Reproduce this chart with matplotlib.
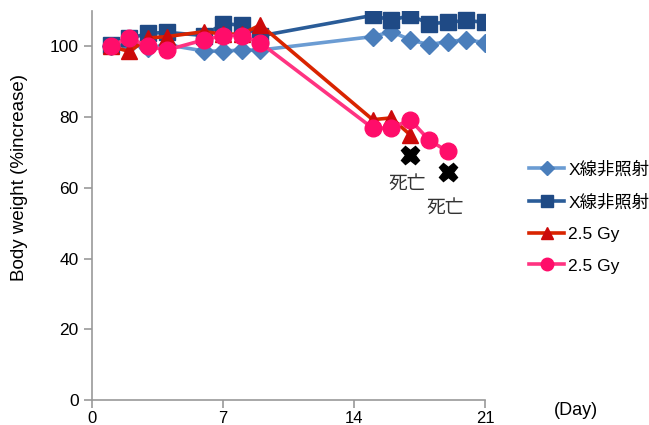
import matplotlib
matplotlib.use("Agg")
import matplotlib.pyplot as plt

plt.rcParams['font.family'] = ['Liberation Sans', 'Noto Sans CJK JP', 'DejaVu Sans']

days_ctrl = [1, 2, 3, 4, 6, 7, 8, 9, 15, 16, 17, 18, 19, 20, 21]
ctrl1 = [100, 100.5, 99.5, 100.5, 98.7, 98.7, 99, 99, 102.8, 104.2, 101.9, 100.5, 101.4, 101.9, 101.1]
ctrl2 = [100.5, 102.3, 103.7, 104, 103.1, 106.5, 106, 103, 108.8, 107.4, 108.8, 106.5, 106.8, 107.4, 106.8]
days_gy1 = [1, 2, 3, 4, 6, 7, 8, 9, 15, 16, 17]
gy1 = [100, 98.6, 102.4, 102.8, 104.2, 103.5, 103.5, 106.1, 79.3, 79.8, 75]
days_gy2 = [1, 2, 3, 4, 6, 7, 8, 9, 15, 16, 17, 18, 19]
gy2 = [100.2, 102.4, 100, 99, 101.9, 103.1, 103.1, 101, 76.9, 76.9, 79.3, 73.6, 70.3]
death_days = [17, 19]
death_vals = [69.3, 64.6]
labels = ['X線非照射', 'X線非照射', '2.5 Gy', '2.5 Gy']

fig = plt.figure(figsize=(6.49, 4.25), dpi=100)
ax = fig.add_axes([0.1418, 0.0588, 0.6055, 0.915])

ax.plot(days_ctrl, ctrl1, color='#6B9CD3', lw=2.6, marker='D', ms=9,
        mfc='#4A7EBB', mec='#4A7EBB', label=labels[0], zorder=3)
ax.plot(days_ctrl, ctrl2, color='#2A5C98', lw=2.6, marker='s', ms=12,
        mfc='#1F4A85', mec='#1F4A85', label=labels[1], zorder=3)
ax.plot(days_gy1, gy1, color='#D92400', lw=2.6, marker='^', ms=12,
        mfc='#CC0A0A', mec='#CC0A0A', label=labels[2], zorder=4)
ax.plot(days_gy2, gy2, color='#FF3381', lw=2.6, marker='o', ms=12,
        mfc='#FF0D6A', mec='#FF0D6A', label=labels[3], zorder=5)

ax.plot(death_days, death_vals, linestyle='none', marker='X', ms=13,
        color='black', zorder=6)
text_offsets = [(-0.15, -7.9), (-0.15, -10.0)]
for (d, v), (dx, dy) in zip(zip(death_days, death_vals), text_offsets):
    ax.text(d + dx, v + dy, '死亡', ha='center', va='center', fontsize=13.5,
            color='#333333', family=['Noto Sans CJK JP'])

ax.set_xlim(0, 21)
ax.set_ylim(0, 110)
ax.set_xticks([0, 7, 14, 21])
ax.set_yticks([0, 20, 40, 60, 80, 100])
for s in ['top', 'right']:
    ax.spines[s].set_visible(False)
for s in ['left', 'bottom']:
    ax.spines[s].set_color('#999999')
    ax.spines[s].set_linewidth(1.2)
ax.tick_params(axis='both', colors='#999999', labelcolor='black',
               labelsize=12.5, length=6, width=1.2)
ax.tick_params(axis='x', pad=2, labelsize=12)
ax.set_ylabel('Body weight (%increase)', fontsize=13.5)
ax.yaxis.set_label_coords(-0.163, 0.571)
fig.text(0.888, 0.035, '(Day)', fontsize=13, ha='center', va='center')

leg = ax.legend(loc='center left', bbox_to_anchor=(1.073, 0.47), frameon=False,
                fontsize=12.5, handlelength=2.0, handletextpad=0.25,
                labelspacing=0.95, markerscale=0.75)

fig.savefig('out.png', dpi=100)
